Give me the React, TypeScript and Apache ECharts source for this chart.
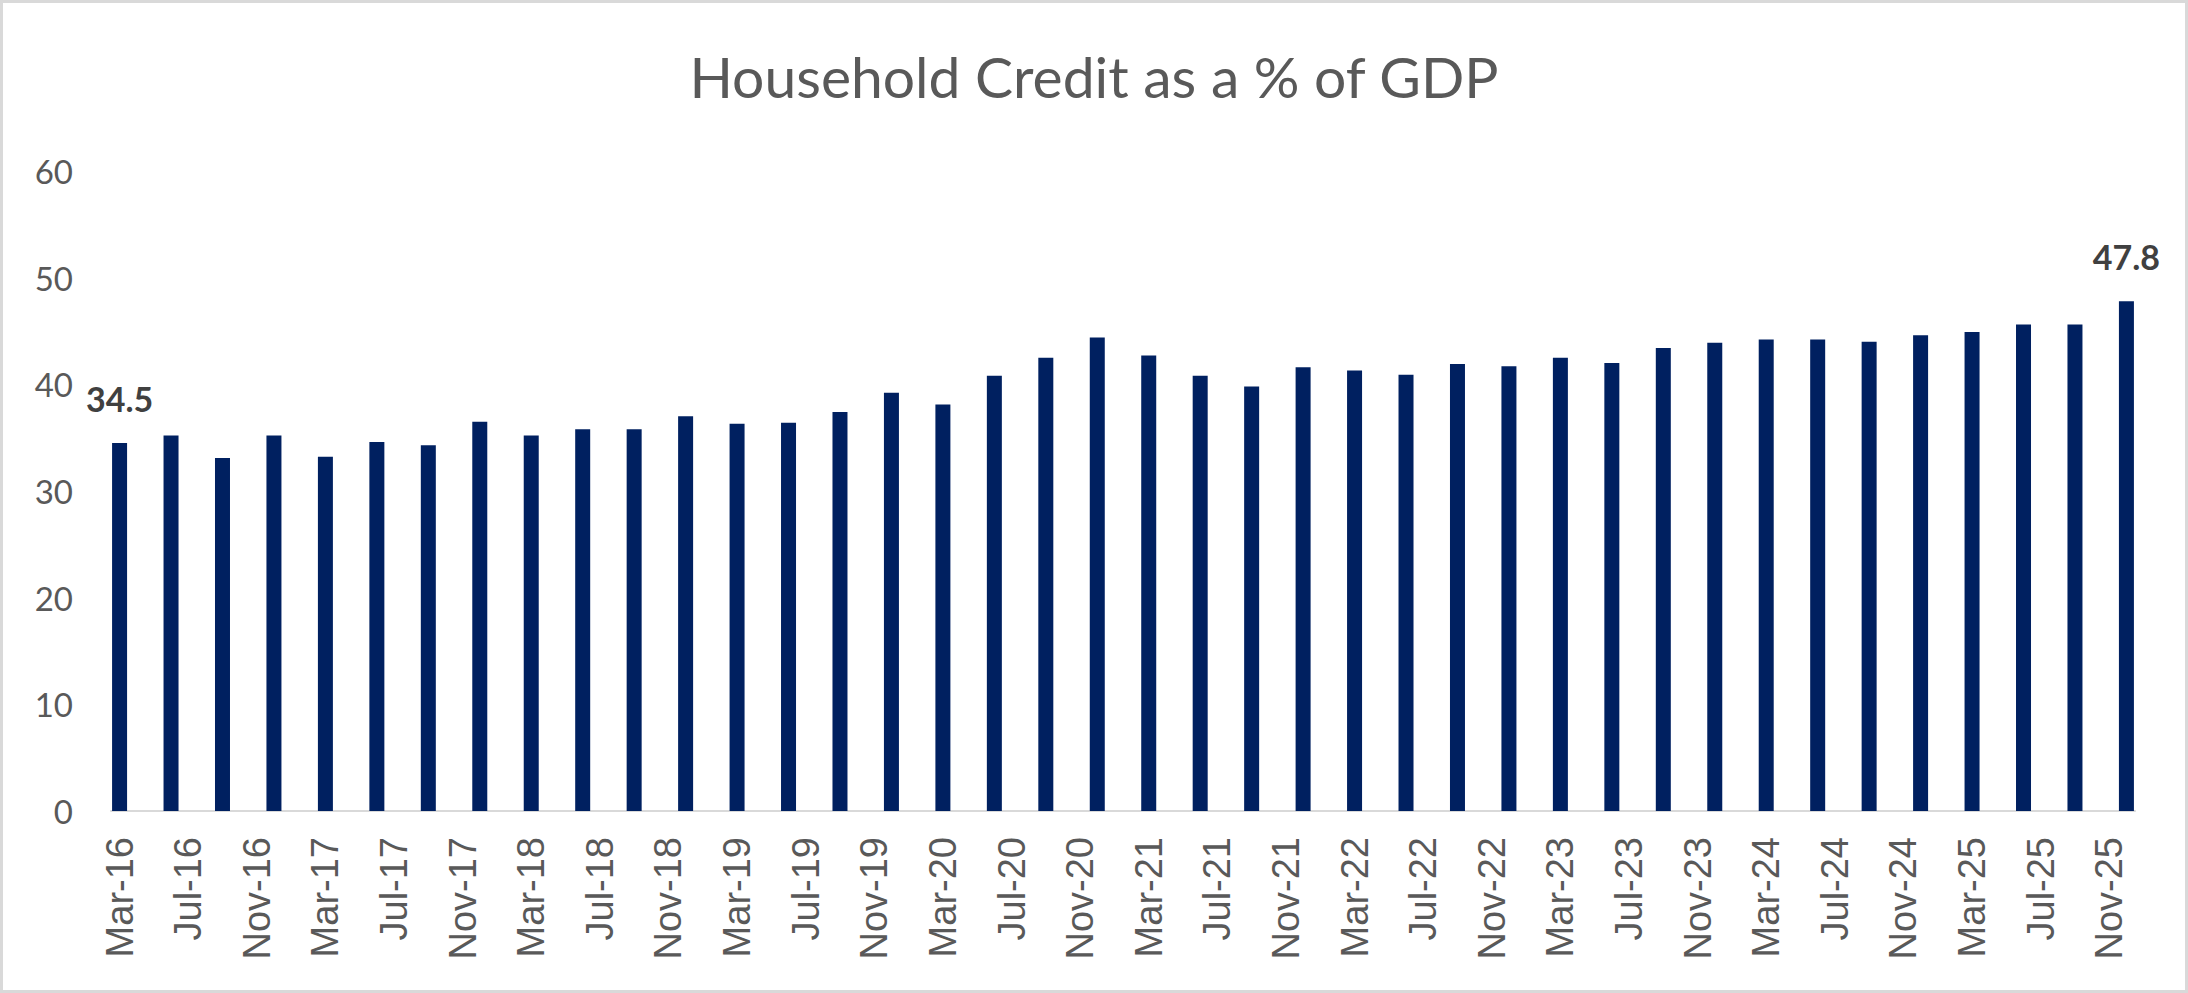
import React, { useEffect, useRef } from "react";
import * as echarts from "echarts";

const QUARTERS = [
  "Mar-16", "Jun-16", "Sep-16", "Dec-16",
  "Mar-17", "Jun-17", "Sep-17", "Dec-17",
  "Mar-18", "Jun-18", "Sep-18", "Dec-18",
  "Mar-19", "Jun-19", "Sep-19", "Dec-19",
  "Mar-20", "Jun-20", "Sep-20", "Dec-20",
  "Mar-21", "Jun-21", "Sep-21", "Dec-21",
  "Mar-22", "Jun-22", "Sep-22", "Dec-22",
  "Mar-23", "Jun-23", "Sep-23", "Dec-23",
  "Mar-24", "Jun-24", "Sep-24", "Dec-24",
  "Mar-25", "Jun-25", "Sep-25", "Dec-25",
];

const CREDIT_PCT_GDP = [
  34.5, 35.2, 33.1, 35.2,
  33.2, 34.6, 34.3, 36.5,
  35.2, 35.8, 35.8, 37.0,
  36.3, 36.4, 37.4, 39.2,
  38.1, 40.8, 42.5, 44.4,
  42.7, 40.8, 39.8, 41.6,
  41.3, 40.9, 41.9, 41.7,
  42.5, 42.0, 43.4, 43.9,
  44.2, 44.2, 44.0, 44.6,
  44.9, 45.6, 45.6, 47.8,
];

// Monthly date axis (Excel date-axis look): Mar-16 .. Dec-25
const MONTH_NAMES = ["Jan", "Feb", "Mar", "Apr", "May", "Jun", "Jul", "Aug", "Sep", "Oct", "Nov", "Dec"];
const FIRST_YEAR = 2016;
const LAST_YEAR = 2025;
const Y_TICKS = { min: 0, max: 60, interval: 10 };

const TITLE = "Household Credit as a % of GDP";
const BAR_COLOR = "#002060";
const TEXT_COLOR = "#595959";

function buildMonths(): string[] {
  const out: string[] = [];
  for (let y = FIRST_YEAR; y <= LAST_YEAR; y++) {
    for (let m = 0; m < 12; m++) {
      if (y === FIRST_YEAR && m < 2) continue;
      out.push(`${MONTH_NAMES[m]}-${String(y).slice(2)}`);
    }
  }
  return out;
}

export default function App() {
  const chartRef = useRef<HTMLDivElement>(null);

  useEffect(() => {
    if (!chartRef.current) return;
    const chart = echarts.init(chartRef.current, undefined, { renderer: "svg" });

    const months = buildMonths();
    const lastIdx = QUARTERS.length - 1;
    const barData = months.map((m) => {
      const qi = QUARTERS.indexOf(m);
      if (qi < 0) return "-";
      // only first and last bars carry a value label
      if (qi === 0 || qi === lastIdx) {
        return { value: CREDIT_PCT_GDP[qi], label: { show: true } };
      }
      return CREDIT_PCT_GDP[qi];
    });

    const option: any = {
      animation: false,
      backgroundColor: "#ffffff",
      title: {
        text: TITLE,
        left: "center",
        top: 47,
        padding: 0,
        textStyle: {
          fontFamily: "Lato, sans-serif",
          fontSize: 57,
          fontWeight: "normal",
          color: TEXT_COLOR,
        },
      },
      grid: {
        left: 111,
        right: 53,
        top: 171,
        bottom: 182,
        outerBoundsMode: "none",
      },
      xAxis: {
        type: "category",
        data: months,
        boundaryGap: true,
        axisLine: { lineStyle: { color: "#d9d9d9", width: 2 } },
        axisTick: { show: false },
        axisLabel: {
          interval: 3,
          rotate: 90,
          margin: 26,
          color: TEXT_COLOR,
          fontFamily: "Liberation Sans, Arial, sans-serif",
          fontSize: 38,
        },
      },
      yAxis: {
        type: "value",
        ...Y_TICKS,
        axisLine: { show: false },
        axisTick: { show: false },
        splitLine: { show: false },
        axisLabel: {
          margin: 38,
          color: TEXT_COLOR,
          fontFamily: "Lato, sans-serif",
          fontSize: 33,
        },
      },
      series: [
        {
          type: "bar",
          data: barData,
          barWidth: 15,
          itemStyle: { color: BAR_COLOR },
          label: {
            show: false,
            position: "top",
            distance: 28,
            color: "#404040",
            fontFamily: "Lato, sans-serif",
            fontWeight: "bold",
            fontSize: 34,
          },
        },
      ],
    };

    chart.setOption(option);
    return () => chart.dispose();
  }, []);

  return (
    <div style={{ position: "fixed", left: 0, top: 0, width: 2188, height: 993, background: "#fff" }}>
      <div ref={chartRef} style={{ width: 2188, height: 993 }} />
      <div
        style={{
          position: "absolute",
          inset: 0,
          border: "3px solid #d9d9d9",
          pointerEvents: "none",
        }}
      />
    </div>
  );
}
